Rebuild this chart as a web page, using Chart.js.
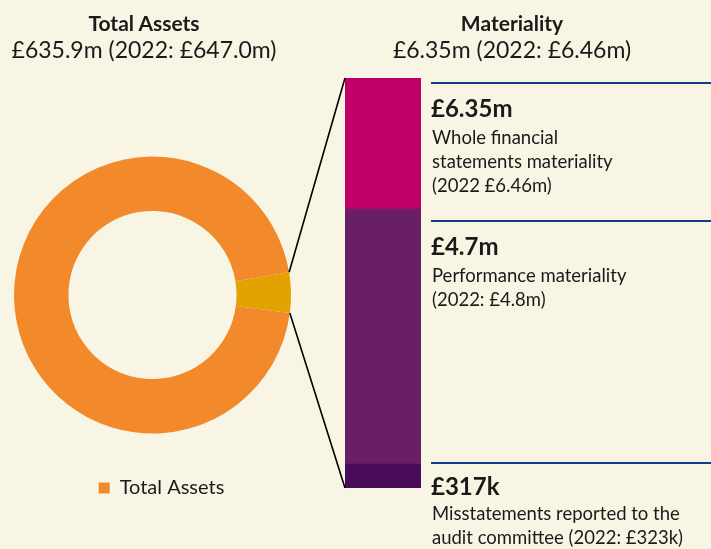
<!DOCTYPE html>
<html>
<head>
<meta charset="utf-8">
<script src="https://cdn.jsdelivr.net/npm/chart.js@4"></script>
<style>
  html, body { margin:0; padding:0; background:#F8F5E4; width:711px; height:549px; overflow:hidden; }
  body { position:relative; font-family: Lato, "Noto Sans", sans-serif; color:#1a1a1a; }
  canvas { position:absolute; left:0; top:0; }
  .t { position:absolute; white-space:nowrap; }
  .c { transform: translateX(-50%); text-align:center; }
  .rule { position:absolute; left:431px; width:280px; height:2px; background:#103C8C; }
  .h { font-size:24px; font-weight:bold; line-height:30px; }
  .b { font-size:18.5px; line-height:24px; }
</style>
</head>
<body>
<canvas id="donut" width="711" height="549"></canvas>
<canvas id="bar" width="711" height="549"></canvas>

<div class="t c" style="left:144px; top:10px; font-size:21px; font-weight:bold; line-height:26px;">Total Assets</div>
<div class="t c" style="left:144px; top:34px; font-size:23px; line-height:30px;">£635.9m (2022: £647.0m)</div>
<div class="t c" style="left:512px; top:10px; font-size:21px; font-weight:bold; line-height:26px;">Materiality</div>
<div class="t c" style="left:512px; top:34px; font-size:23px; line-height:30px;">£6.35m (2022: £6.46m)</div>

<div class="rule" style="top:82px;"></div>
<div class="rule" style="top:220px;"></div>
<div class="rule" style="top:462px;"></div>

<div class="t h" style="left:431px; top:93px;">£6.35m</div>
<div class="t b" style="left:432px; top:125px;">Whole financial<br>statements materiality<br>(2022 £6.46m)</div>

<div class="t h" style="left:431px; top:231px;">£4.7m</div>
<div class="t b" style="left:432px; top:263px;">Performance materiality<br>(2022: £4.8m)</div>

<div class="t h" style="left:431px; top:471px;">£317k</div>
<div class="t b" style="left:432px; top:502px; line-height:23.5px;">Misstatements reported to the<br>audit committee (2022: £323k)</div>

<script>
// ---- data ----
const donutLabels = ['Total Assets', 'Materiality'];
const donutShares = [95.3, 4.7];            // share of ring as drawn (%)
const donutColors = ['#F28A2C', '#E2A200'];

const barCategories = ['Materiality'];
const misstatementsSeg = [0.37];             // bottom segment (£m, as drawn)
const performanceSeg = [3.95];               // middle segment
const wholeSeg = [2.03];                     // top segment
const barMax = 6.35;

Chart.defaults.font.family = 'Lato, "Noto Sans", sans-serif';
Chart.defaults.color = '#1a1a1a';

const legendShift = {
  id: 'legendShift',
  afterLayout(chart) {
    if (chart.legend) { chart.legend.left += 9; chart.legend.right += 9; }
  }
};

const donutChart = new Chart(document.getElementById('donut'), {
  type: 'doughnut',
  data: {
    labels: donutLabels,
    datasets: [{ data: donutShares, backgroundColor: donutColors, borderWidth: 0 }]
  },
  options: {
    responsive: false,
    animation: false,
    rotation: 97.5,
    cutout: '60.7%',
    layout: { padding: { left: 14, right: 420, top: 122, bottom: 41 } },
    plugins: {
      tooltip: { enabled: false },
      legend: {
        position: 'bottom',
        labels: {
          boxWidth: 11, boxHeight: 11, padding: 10,
          font: { size: 20 },
          color: '#1a1a1a',
          filter: (item) => item.index === 0
        }
      }
    }
  },
  plugins: [legendShift]
});

const connectors = {
  id: 'connectors',
  afterDatasetsDraw(chart) {
    const arc = donutChart.getDatasetMeta(0).data[1];
    const p = arc.getProps(['x', 'y', 'startAngle', 'endAngle', 'outerRadius'], true);
    const topBar = chart.getDatasetMeta(2).data[0];
    const botBar = chart.getDatasetMeta(0).data[0];
    const left = topBar.x - topBar.width / 2;
    const ctx = chart.ctx;
    ctx.save();
    ctx.strokeStyle = '#000';
    ctx.lineWidth = 1.6;
    ctx.beginPath();
    ctx.moveTo(p.x + p.outerRadius * Math.cos(p.startAngle), p.y + p.outerRadius * Math.sin(p.startAngle));
    ctx.lineTo(left, topBar.y);
    ctx.moveTo(p.x + p.outerRadius * Math.cos(p.endAngle), p.y + p.outerRadius * Math.sin(p.endAngle));
    ctx.lineTo(left, botBar.base);
    ctx.stroke();
    ctx.restore();
  }
};

new Chart(document.getElementById('bar'), {
  type: 'bar',
  data: {
    labels: barCategories,
    datasets: [
      { label: 'Misstatements reported', data: misstatementsSeg, backgroundColor: '#4A0C5A' },
      { label: 'Performance materiality', data: performanceSeg, backgroundColor: '#6A1F64' },
      { label: 'Whole financial statements materiality', data: wholeSeg, backgroundColor: '#C00068' }
    ]
  },
  options: {
    responsive: false,
    animation: false,
    datasets: { bar: { barPercentage: 1, categoryPercentage: 1, borderWidth: 0 } },
    layout: { padding: { left: 345, right: 290, top: 78, bottom: 61 } },
    scales: {
      x: { stacked: true, display: false },
      y: { stacked: true, display: false, min: 0, max: barMax }
    },
    plugins: { legend: { display: false }, tooltip: { enabled: false } }
  },
  plugins: [connectors]
});
</script>
</body>
</html>
